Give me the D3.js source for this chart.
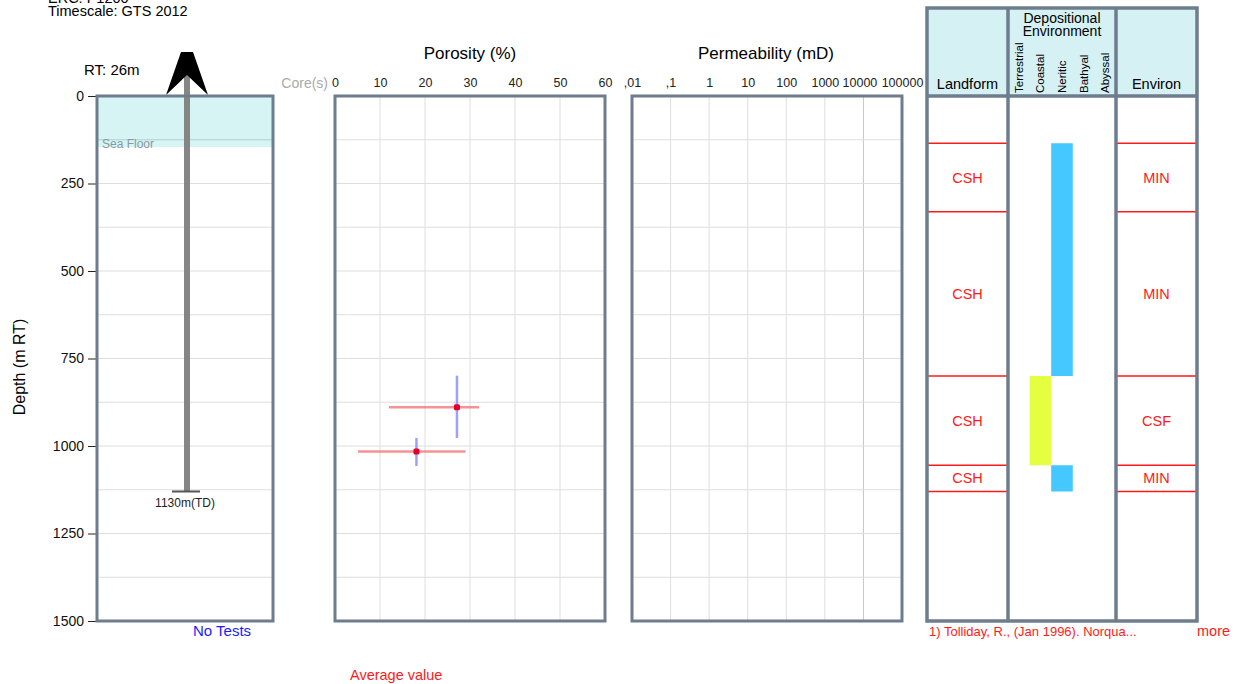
<!DOCTYPE html>
<html><head><meta charset="utf-8">
<script src="https://cdn.jsdelivr.net/npm/d3@7"></script>
<style>body{margin:0;background:#fff;font-family:"Liberation Sans",Arial,sans-serif;}svg text{font-family:"Liberation Sans",Arial,sans-serif;}</style>
</head><body>
<svg id="c" width="1240" height="684"></svg>
<script>
// ---- data ----
const depthTicks = [0, 250, 500, 750, 1000, 1250, 1500];
const depthGrid = [125, 250, 375, 500, 625, 750, 875, 1000, 1125, 1250, 1375];
const rtElevation = 26;
const totalDepth = 1130;
const seaFloorDepth = 146;
const porosityTicks = [0, 10, 20, 30, 40, 50, 60];
const permTicks = [0.01, 0.1, 1, 10, 100, 1000, 10000, 100000];
const permTickLabels = [",01", ",1", "1", "10", "100", "1000", "10000", "100000"];
// porosity samples: depth, average %, min %, max %, depth top, depth base
const porDepth = [889, 1016];
const porAvg = [27.1, 18.1];
const porMin = [12.0, 5.1];
const porMax = [32.0, 29.0];
const porTop = [799, 977];
const porBase = [977, 1057];
// interpretation intervals
const intTop = [135, 331, 800, 1055];
const intBase = [331, 800, 1055, 1130];
const landform = ["CSH", "CSH", "CSH", "CSH"];
const environ = ["MIN", "MIN", "CSF", "MIN"];
// depositional environment bars
const depEnvCols = ["Terrestrial", "Coastal", "Neritic", "Bathyal", "Abyssal"];
const depTop = [135, 800, 1055];
const depBase = [800, 1055, 1130];
const depEnv = ["Neritic", "Coastal", "Neritic"];
const depColor = {Neritic: "#45c8ff", Coastal: "#e4ff3f"};

// ---- drawing ----
const svg = d3.select("#c");
const border = "#6e7d8e", grid = "#dedede";
const y = d3.scaleLinear().domain([0, 1500]).range([96, 621]);

// header text
svg.append("text").attr("x", 48).attr("y", 3).attr("font-size", 14.5).text("ERC: P1200");
svg.append("text").attr("x", 48).attr("y", 16).attr("font-size", 14.5).text("Timescale: GTS 2012");

// depth axis
const yAxis = svg.append("g").attr("transform", "translate(97,0)")
  .call(d3.axisLeft(y).tickValues(depthTicks).tickFormat(d3.format("d")).tickSize(9).tickPadding(4));
yAxis.select(".domain").remove();
yAxis.selectAll("text").attr("font-size", 14).attr("fill", "#111");
yAxis.selectAll("line").attr("stroke", "#222");
svg.append("text").attr("transform", "translate(25,367) rotate(-90)")
  .attr("text-anchor", "middle").attr("font-size", 16).text("Depth (m RT)");

// well panel
const wx0 = 97, wx1 = 273;
svg.append("rect").attr("x", wx0).attr("y", y(0)).attr("width", wx1 - wx0)
  .attr("height", y(seaFloorDepth) - y(0)).attr("fill", "#d6f4f4");
svg.selectAll(".wg").data(depthGrid).enter().append("line")
  .attr("x1", wx0).attr("x2", wx1).attr("y1", d => y(d)).attr("y2", d => y(d))
  .attr("stroke", d => d < seaFloorDepth ? "#b5cfd2" : grid).attr("stroke-width", 1);
svg.append("text").attr("x", 102).attr("y", 148).attr("font-size", 12).attr("fill", "#8a9aa0").text("Sea Floor");
const wc = 187;
svg.append("rect").attr("x", wc - 3).attr("y", 52).attr("width", 6).attr("height", y(totalDepth) - 52)
  .attr("fill", "#7f7f7f").attr("opacity", 0.95);
svg.append("line").attr("x1", wc - 15).attr("x2", wc + 13).attr("y1", y(totalDepth)).attr("y2", y(totalDepth))
  .attr("stroke", "#555").attr("stroke-width", 2);
svg.append("text").attr("x", wc - 2).attr("y", 507).attr("text-anchor", "middle").attr("font-size", 12).attr("fill", "#222")
  .text(totalDepth + "m(TD)");
svg.append("path").attr("d", `M${wc-6},52 L${wc+6},52 L${wc+21},95 L${wc},75 L${wc-21},95 Z`).attr("fill", "#000");
svg.append("text").attr("x", 84).attr("y", 75).attr("font-size", 15).text("RT: " + rtElevation + "m");
svg.append("rect").attr("x", wx0).attr("y", y(0)).attr("width", wx1 - wx0).attr("height", y(1500) - y(0))
  .attr("fill", "none").attr("stroke", border).attr("stroke-width", 3);
svg.append("text").attr("x", 193).attr("y", 636).attr("font-size", 15).attr("fill", "#1a1aff").text("No Tests");

// porosity panel
const px = d3.scaleLinear().domain([0, 60]).range([335, 605]);
const pg = svg.append("g");
pg.selectAll(".pv").data(porosityTicks.slice(1, -1)).enter().append("line")
  .attr("x1", d => px(d)).attr("x2", d => px(d)).attr("y1", y(0)).attr("y2", y(1500)).attr("stroke", grid);
pg.selectAll(".ph").data(depthGrid).enter().append("line")
  .attr("x1", px(0)).attr("x2", px(60)).attr("y1", d => y(d)).attr("y2", d => y(d)).attr("stroke", grid);
const pAxis = svg.append("g").attr("transform", "translate(0,89)")
  .call(d3.axisTop(px).tickValues(porosityTicks).tickSize(0).tickPadding(2));
pAxis.select(".domain").remove();
pAxis.selectAll("text").attr("font-size", 12.5).attr("fill", "#222");
svg.append("text").attr("x", 470).attr("y", 59).attr("text-anchor", "middle").attr("font-size", 17).text("Porosity (%)");
svg.append("text").attr("x", 328).attr("y", 88).attr("text-anchor", "end").attr("font-size", 14).attr("fill", "#aaa").text("Core(s)");
const idx = d3.range(porDepth.length);
svg.selectAll(".pe").data(idx).enter().append("line")
  .attr("x1", i => px(porMin[i])).attr("x2", i => px(porMax[i])).attr("y1", i => y(porDepth[i])).attr("y2", i => y(porDepth[i]))
  .attr("stroke", "#f07070").attr("stroke-width", 2.5).attr("opacity", 0.75);
svg.selectAll(".pd").data(idx).enter().append("line")
  .attr("x1", i => px(porAvg[i])).attr("x2", i => px(porAvg[i])).attr("y1", i => y(porTop[i])).attr("y2", i => y(porBase[i]))
  .attr("stroke", "#8080ff").attr("stroke-width", 2.5).attr("opacity", 0.75);
svg.selectAll(".pp").data(idx).enter().append("rect")
  .attr("x", i => px(porAvg[i]) - 3).attr("y", i => y(porDepth[i]) - 3).attr("width", 6).attr("height", 6).attr("rx", 1.5)
  .attr("fill", "#e0002a");
svg.append("rect").attr("x", px(0)).attr("y", y(0)).attr("width", px(60) - px(0)).attr("height", y(1500) - y(0))
  .attr("fill", "none").attr("stroke", border).attr("stroke-width", 3);
svg.append("text").attr("x", 350).attr("y", 680).attr("font-size", 14.5).attr("fill", "#ff1a1a").text("Average value");

// permeability panel
const kx = d3.scaleLog().domain([0.01, 100000]).range([632, 902]);
svg.selectAll(".kv").data(permTicks.slice(1, -1)).enter().append("line")
  .attr("x1", d => kx(d)).attr("x2", d => kx(d)).attr("y1", y(0)).attr("y2", y(1500))
  .attr("stroke", d => d === 10000 ? "#c6c6c6" : grid);
svg.selectAll(".kh").data(depthGrid).enter().append("line")
  .attr("x1", kx(0.01)).attr("x2", kx(100000)).attr("y1", d => y(d)).attr("y2", d => y(d)).attr("stroke", grid);
const kAxis = svg.append("g").attr("transform", "translate(0,89)")
  .call(d3.axisTop(kx).tickValues(permTicks).tickFormat((d, i) => permTickLabels[i]).tickSize(0).tickPadding(2));
kAxis.select(".domain").remove();
kAxis.selectAll("text").attr("font-size", 12.5).attr("fill", "#222")
  .attr("dx", (d, i) => i === 6 ? -4 : 0);
svg.append("text").attr("x", 766).attr("y", 59).attr("text-anchor", "middle").attr("font-size", 17).text("Permeability (mD)");
svg.append("rect").attr("x", kx(0.01)).attr("y", y(0)).attr("width", kx(100000) - kx(0.01)).attr("height", y(1500) - y(0))
  .attr("fill", "none").attr("stroke", border).attr("stroke-width", 3);

// interpretation panel
const cL0 = 927, cL1 = 1008, cD1 = 1116, cE1 = 1197, topY = 8;
svg.append("rect").attr("x", cL0).attr("y", topY).attr("width", cE1 - cL0).attr("height", y(0) - topY).attr("fill", "#d6f1f4");
const dx = d3.scaleBand().domain(depEnvCols).range([cL1, cD1]);
svg.selectAll(".db").data(d3.range(depTop.length)).enter().append("rect")
  .attr("x", i => dx(depEnv[i])).attr("width", dx.bandwidth())
  .attr("y", i => y(depTop[i])).attr("height", i => y(depBase[i]) - y(depTop[i]))
  .attr("fill", i => depColor[depEnv[i]]);
const bounds = Array.from(new Set(intTop.concat(intBase)));
[[cL0, cL1], [cD1, cE1]].forEach(([a, b]) => {
  svg.selectAll(null).data(bounds).enter().append("line")
    .attr("x1", a).attr("x2", b).attr("y1", d => y(d)).attr("y2", d => y(d)).attr("stroke", "#ff1a1a").attr("stroke-width", 1.5);
});
const ii = d3.range(intTop.length);
svg.selectAll(".lf").data(ii).enter().append("text")
  .attr("x", (cL0 + cL1) / 2).attr("y", i => (y(intTop[i]) + y(intBase[i])) / 2 + 5)
  .attr("text-anchor", "middle").attr("font-size", 14.5).attr("fill", "#ff1a1a").text(i => landform[i]);
svg.selectAll(".en").data(ii).enter().append("text")
  .attr("x", (cD1 + cE1) / 2).attr("y", i => (y(intTop[i]) + y(intBase[i])) / 2 + 5)
  .attr("text-anchor", "middle").attr("font-size", 14.5).attr("fill", "#ff1a1a").text(i => environ[i]);
// header texts
svg.append("text").attr("x", (cL0 + cL1) / 2).attr("y", 89).attr("text-anchor", "middle").attr("font-size", 14.5).text("Landform");
svg.append("text").attr("x", (cD1 + cE1) / 2).attr("y", 89).attr("text-anchor", "middle").attr("font-size", 14.5).text("Environ");
svg.append("text").attr("x", (cL1 + cD1) / 2).attr("y", 23).attr("text-anchor", "middle").attr("font-size", 14).text("Depositional");
svg.append("text").attr("x", (cL1 + cD1) / 2).attr("y", 36).attr("text-anchor", "middle").attr("font-size", 14).text("Environment");
svg.selectAll(".dc").data(depEnvCols).enter().append("text")
  .attr("transform", d => `translate(${dx(d) + dx.bandwidth() / 2 + 4},93) rotate(-90)`)
  .attr("font-size", 11.5).text(d => d);
// borders
svg.append("rect").attr("x", cL0).attr("y", topY).attr("width", cE1 - cL0).attr("height", y(1500) - topY)
  .attr("fill", "none").attr("stroke", border).attr("stroke-width", 3.5);
[cL1, cD1].forEach(xv => svg.append("line").attr("x1", xv).attr("x2", xv).attr("y1", topY).attr("y2", y(1500))
  .attr("stroke", border).attr("stroke-width", 3.5));
svg.append("line").attr("x1", cL0).attr("x2", cE1).attr("y1", y(0)).attr("y2", y(0)).attr("stroke", border).attr("stroke-width", 3.5);
svg.append("text").attr("x", 929).attr("y", 636).attr("font-size", 13).attr("fill", "#ff1a1a").text("1) Tolliday, R., (Jan 1996). Norqua...");
svg.append("text").attr("x", 1197).attr("y", 636).attr("font-size", 14.5).attr("fill", "#ff1a1a").text("more");
</script>
</body></html>
